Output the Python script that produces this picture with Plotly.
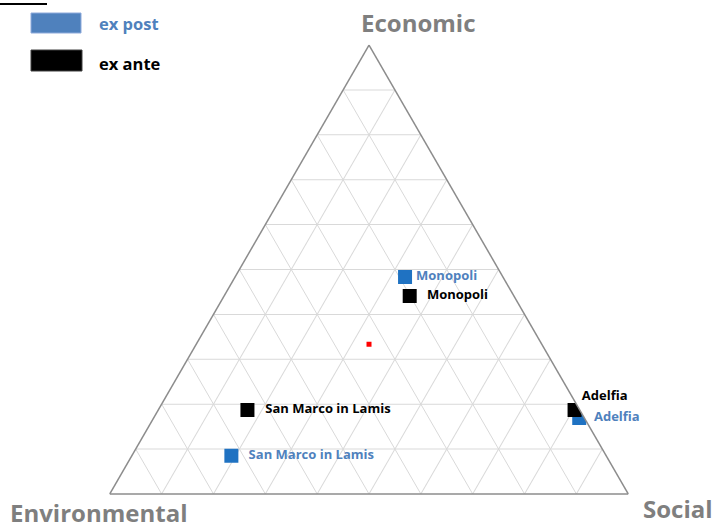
import plotly.graph_objects as go

# Data (ternary coordinates: Economic, Environmental, Social)
places = ["Monopoli", "Adelfia", "San Marco in Lamis"]
ex_post_economic = [0.483, 0.169, 0.085]
ex_post_environmental = [0.189, 0.010, 0.723]
ex_post_social = [0.328, 0.821, 0.192]

ex_ante_economic = [0.441, 0.187, 0.187]
ex_ante_environmental = [0.201, 0.010, 0.641]
ex_ante_social = [0.358, 0.803, 0.172]

center_point = [1/3, 1/3, 1/3]

BLUE_MARK = "#1f72c2"
BLUE_TEXT = "#4f81bd"
FONT = "Open Sans"

fig = go.Figure()

fig.add_trace(go.Scatterternary(
    a=ex_post_economic, b=ex_post_environmental, c=ex_post_social,
    mode="markers", marker=dict(symbol="square", size=14, color=BLUE_MARK, line=dict(width=0)),
    hoverinfo="skip", showlegend=False))
fig.add_trace(go.Scatterternary(
    a=ex_ante_economic, b=ex_ante_environmental, c=ex_ante_social,
    mode="markers", marker=dict(symbol="square", size=14, color="black", line=dict(width=0)),
    hoverinfo="skip", showlegend=False))
fig.add_trace(go.Scatterternary(
    a=[center_point[0]], b=[center_point[1]], c=[center_point[2]],
    mode="markers", marker=dict(symbol="square", size=5, color="red"),
    hoverinfo="skip", showlegend=False))

# label traces (transparent marker sizes only set the label offset)
post_pos = ["middle right", "middle right", "middle right"]
ante_pos = ["middle right", "top right", "middle right"]
post_lab_size = [16, 22, 26]
ante_lab_size = [26, 10, 27]
post_text = ["<b>" + p + "</b>" for p in places]
ante_text = ["<b>" + p + "</b>" for p in places]
fig.add_trace(go.Scatterternary(
    a=ex_post_economic, b=ex_post_environmental, c=ex_post_social,
    mode="markers+text", text=post_text, textposition=post_pos,
    marker=dict(size=post_lab_size, opacity=0),
    textfont=dict(family=FONT, size=13, color=BLUE_TEXT),
    hoverinfo="skip", showlegend=False, cliponaxis=False))
fig.add_trace(go.Scatterternary(
    a=ex_ante_economic, b=ex_ante_environmental, c=ex_ante_social,
    mode="markers+text", text=ante_text, textposition=ante_pos,
    marker=dict(size=ante_lab_size, opacity=0),
    textfont=dict(family=FONT, size=13, color="black"),
    hoverinfo="skip", showlegend=False, cliponaxis=False))

axis_common = dict(showticklabels=False, ticks="", showgrid=True, gridcolor="#d9d9d9",
                   gridwidth=1, dtick=0.1, tick0=0, linecolor="#8c8c8c", linewidth=1.5,
                   showline=True, title=dict(text=""))

fig.update_layout(
    width=713, height=524,
    margin=dict(l=0, r=0, t=0, b=0),
    paper_bgcolor="white", plot_bgcolor="white",
    ternary=dict(
        domain=dict(x=[0.1529, 0.8822], y=[0.0573, 0.9141]),
        bgcolor="white", sum=1,
        aaxis=axis_common, baxis=axis_common, caxis=axis_common,
    ),
    font=dict(family=FONT),
    showlegend=False,
)

for txt, x, y in [("Economic", 419, 22), ("Environmental", 98, 512), ("Social", 678, 508)]:
    fig.add_annotation(text="<b>" + txt + "</b>", x=x/713, y=1 - y/524, xref="paper", yref="paper",
                       showarrow=False, font=dict(family=FONT, size=24, color="#7f7f7f"),
                       xanchor="center", yanchor="middle")

fig.add_shape(type="line", x0=0, x1=47/713, y0=1 - 4/524, y1=1 - 4/524, xref="paper", yref="paper",
              line=dict(color="black", width=2))
fig.add_shape(type="rect", x0=31/713, x1=81/713, y0=1 - 33/524, y1=1 - 13/524, xref="paper", yref="paper",
              fillcolor="#4f81bd", line=dict(color="#8eaadb", width=1))
fig.add_shape(type="rect", x0=31/713, x1=82/713, y0=1 - 71/524, y1=1 - 50/524, xref="paper", yref="paper",
              fillcolor="black", line=dict(color="#404040", width=1))
fig.add_annotation(text="<b>ex post</b>", x=97/713, y=1 - 24/524, xref="paper", yref="paper",
                   showarrow=False, xanchor="left", yanchor="middle",
                   font=dict(family=FONT, size=16.5, color=BLUE_TEXT))
fig.add_annotation(text="<b>ex ante</b>", x=97/713, y=1 - 63/524, xref="paper", yref="paper",
                   showarrow=False, xanchor="left", yanchor="middle",
                   font=dict(family=FONT, size=16.5, color="black"))

fig.write_html("out.html", config={"displayModeBar": False},
               post_script="document.body.style.margin='0';document.body.style.overflow='hidden';")
